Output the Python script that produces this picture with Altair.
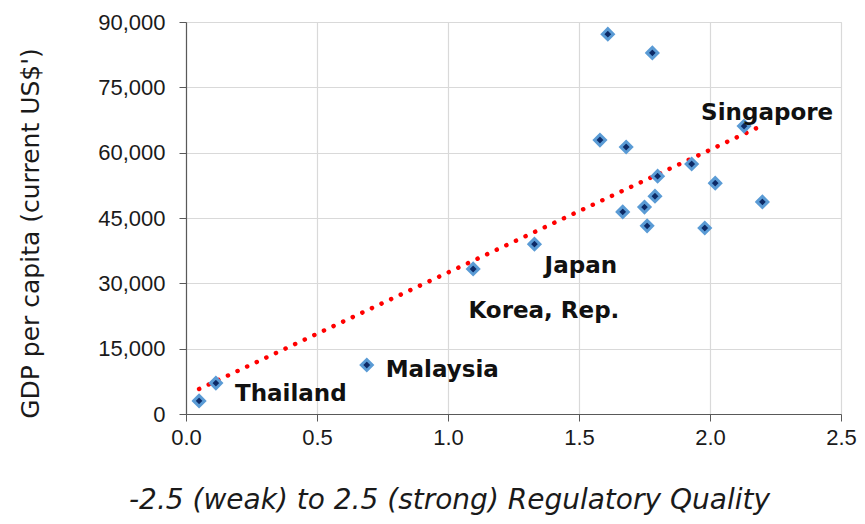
import altair as alt
import pandas as pd

# Regulatory quality (x) and GDP per capita (y, current US$)
reg_quality = [0.05, 0.114, 0.69, 1.096, 1.33, 1.61, 1.78, 1.58, 1.68, 1.80,
               1.93, 2.02, 1.79, 1.75, 1.667, 1.76, 1.98, 2.20, 2.13]
gdp_pc = [3000, 7100, 11250, 33300, 39000, 87200, 82900, 62900, 61300, 54600,
          57400, 53000, 50000, 47500, 46400, 43200, 42700, 48700, 66100]

label_text = ["Singapore", "Japan", "Korea, Rep.", "Malaysia", "Thailand"]
label_x = [2.218, 1.507, 1.366, 0.978, 0.400]
label_y = [69100, 33980, 23650, 10100, 4590]

x_ticks = [0.0, 0.5, 1.0, 1.5, 2.0, 2.5]
y_ticks = [0, 15000, 30000, 45000, 60000, 75000, 90000]

pts = pd.DataFrame({"rq": reg_quality, "gdp": gdp_pc})
labs = pd.DataFrame({"t": label_text, "rq": label_x, "gdp": label_y})

FONT = "Liberation Sans"
WIDE = "DejaVu Sans"

x_enc = alt.X(
    "rq:Q",
    scale=alt.Scale(domain=[0, 2.5], nice=False, zero=False),
    axis=alt.Axis(
        values=x_ticks, format=".1f", labelFlush=False,
        title="-2.5 (weak) to 2.5 (strong) Regulatory Quality",
        titleFont=WIDE, titleFontSize=28, titleFontStyle="italic", titleFontWeight="normal",
        titleColor="#1a1a1a", titleX=263, titleY=86, titleAlign="center", titleBaseline="middle",
        labelFont=FONT, labelFontSize=22, labelColor="#1a1a1a", labelPadding=6,
        tickSize=7, tickColor="#595959", domainColor="#595959", domainWidth=1.2,
        gridColor="#d9d9d9", gridWidth=1.2,
    ),
)
y_enc = alt.Y(
    "gdp:Q",
    scale=alt.Scale(domain=[0, 90000], nice=False),
    axis=alt.Axis(
        values=y_ticks, format=",d", labelFlush=False,
        title="GDP per capita (current US$')",
        titleFont=WIDE, titleFontSize=25, titleFontWeight="normal", titleColor="#1a1a1a",
        titleAngle=270, titleX=-156, titleY=211, titleAlign="center", titleBaseline="middle",
        labelFont=FONT, labelFontSize=22, labelColor="#1a1a1a", labelPadding=14,
        tickSize=7, tickColor="#595959", domainColor="#595959", domainWidth=1.2,
        gridColor="#d9d9d9", gridWidth=1.2,
    ),
)

points = alt.Chart(pts).mark_point(
    shape="diamond", filled=True, size=120, fill="#0d2a66", fillOpacity=1,
    stroke="#5a9bd5", strokeWidth=3, opacity=1,
).encode(x=x_enc, y=y_enc)

trend = alt.Chart(pts).transform_regression("rq", "gdp").mark_line(
    color="#ff0000", strokeWidth=4.5, strokeDash=[0.1, 10.5], strokeCap="round",
).encode(x="rq:Q", y="gdp:Q")

labels = alt.Chart(labs).mark_text(
    font=WIDE, fontSize=23, fontWeight="bold", color="#111111",
    align="center", baseline="middle",
).encode(x="rq:Q", y="gdp:Q", text="t:N")

chart = alt.layer(trend, points, labels).properties(
    width=655, height=392,
    autosize=alt.AutoSizeParams(type="none"),
    padding={"left": 178, "top": 14, "right": 16, "bottom": 102},
).configure_view(strokeWidth=0).configure(background="white")

chart.save("out.html", embed_options={"renderer": "svg", "actions": False})
